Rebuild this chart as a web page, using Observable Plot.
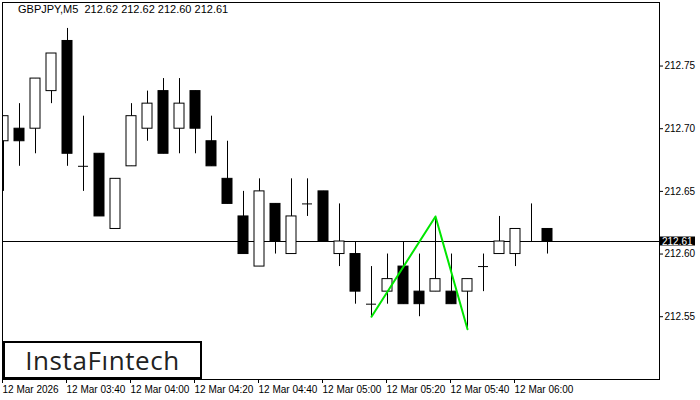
<!DOCTYPE html>
<html>
<head>
<meta charset="utf-8">
<script src="https://cdn.jsdelivr.net/npm/d3@7"></script>
<script src="https://cdn.jsdelivr.net/npm/@observablehq/plot@0.6"></script>
<style>
  html, body { margin: 0; padding: 0; background: #fff; }
  #wrap { position: relative; width: 700px; height: 400px; overflow: hidden; }
  #title { position: absolute; left: 18px; top: 3px; font: 11px "Liberation Sans", Arial, sans-serif; color: #000; white-space: pre; }
  #logo { position: absolute; left: 3px; top: 341px; width: 195px; height: 34px; border: 2px solid #000; background: #fff;
          display: flex; align-items: center; justify-content: center; font: 500 26px "Open Sans", Lato, sans-serif; letter-spacing: 0.6px; color: #222; }
</style>
</head>
<body>
<div id="wrap">
  <div id="chart"></div>
  <div id="title"></div>
  <div id="logo">InstaFıntech</div>
</div>
<script>
const symbolTitle = "GBPJPY,M5  212.62 212.62 212.60 212.61";
const times = ["03:20","03:25","03:30","03:35","03:40","03:45","03:50","03:55","04:00","04:05","04:10","04:15","04:20","04:25","04:30","04:35","04:40","04:45","04:50","04:55","05:00","05:05","05:10","05:15","05:20","05:25","05:30","05:35","05:40","05:45","05:50","05:55","06:00","06:05","06:10"];
const open  = [212.69,212.70,212.70,212.73,212.77,212.67,212.68,212.62,212.67,212.70,212.73,212.70,212.73,212.69,212.66,212.63,212.59,212.64,212.60,212.64,212.65,212.60,212.60,212.56,212.57,212.59,212.57,212.57,212.57,212.57,212.59,212.60,212.60,212.61,212.62];
const high  = [212.71,212.72,212.74,212.76,212.78,212.71,212.68,212.66,212.72,212.73,212.74,212.74,212.73,212.71,212.69,212.65,212.66,212.64,212.66,212.66,212.65,212.64,212.61,212.59,212.60,212.61,212.60,212.63,212.60,212.58,212.60,212.63,212.62,212.64,212.62];
const low   = [212.65,212.67,212.68,212.72,212.67,212.65,212.63,212.62,212.67,212.69,212.68,212.68,212.68,212.67,212.64,212.60,212.59,212.60,212.60,212.63,212.61,212.59,212.56,212.55,212.56,212.56,212.55,212.57,212.56,212.54,212.57,212.60,212.59,212.61,212.60];
const close = [212.71,212.69,212.74,212.76,212.68,212.67,212.63,212.66,212.71,212.72,212.68,212.72,212.70,212.67,212.64,212.60,212.65,212.61,212.63,212.64,212.61,212.61,212.57,212.56,212.58,212.56,212.56,212.58,212.56,212.58,212.59,212.61,212.62,212.61,212.61];
const lastPrice = 212.61;
const yTicks = [212.55, 212.60, 212.65, 212.70, 212.75];
const xTickTimes = ["03:20","03:40","04:00","04:20","04:40","05:00","05:20","05:40","06:00"];
const patternTimes = ["05:15","05:35","05:45"];
const patternValues = [212.55, 212.63, 212.54];

const toDate = s => { const [h, m] = s.split(":").map(Number); return new Date(Date.UTC(2026, 2, 12, h, m)); };
const barMs = 5 * 60 * 1000;
const halfBody = barMs * 5 / 16;

const candles = times.map((s, i) => ({t: toDate(s), open: open[i], high: high[i], low: low[i], close: close[i]}));
const bull = candles.filter(d => d.close > d.open);
const bear = candles.filter(d => d.close < d.open);
const doji = candles.filter(d => d.close === d.open);
const pattern = patternTimes.map((s, i) => ({t: toDate(s), v: patternValues[i]}));
const xTicks = xTickTimes.map(toDate);
const fmtTime = d3.utcFormat("%d %b %H:%M");
const first = +xTicks[0];

const x1 = d => new Date(+d.t - halfBody);
const x2 = d => new Date(+d.t + halfBody);

const chart = Plot.plot({
  width: 700,
  height: 400,
  marginLeft: 2,
  marginRight: 41,
  marginTop: 2,
  marginBottom: 21,
  style: {fontFamily: "'Liberation Sans', Arial, sans-serif", fontSize: "10px", color: "#000", background: "#fff"},
  x: {type: "utc", label: null, domain: [new Date(+toDate("03:20") - barMs / 16), toDate("06:45")]},
  y: {label: null, domain: [212.4999, 212.8007]},
  marks: [
    Plot.ruleY([lastPrice], {stroke: "#000", strokeWidth: 1}),
    Plot.ruleX(candles, {x: "t", y1: "low", y2: "high", stroke: "#000", clip: true}),
    Plot.rect(bull, {x1, x2, y1: "open", y2: "close", fill: "#fff", stroke: "#000", clip: true}),
    Plot.rect(bear, {x1, x2, y1: "open", y2: "close", fill: "#000", stroke: "#000", clip: true}),
    Plot.ruleY(doji, {y: "open", x1, x2, stroke: "#000", clip: true}),
    Plot.line(pattern, {x: "t", y: "v", stroke: "#00e600", strokeWidth: 2}),
    Plot.frame({stroke: "#000"}),
    Plot.axisY(yTicks, {anchor: "right", label: null, tickSize: 3, tickPadding: 2, tickFormat: d => d.toFixed(2), fill: "#000"}),
    Plot.axisX(xTicks, {anchor: "bottom", label: null, tickSize: 4, tickPadding: 2, textAnchor: "start", dx: -1,
      tickFormat: d => +d === first ? "12 Mar 2026" : fmtTime(d), fill: "#000"})
  ]
});

document.getElementById("chart").appendChild(chart);
document.getElementById("title").textContent = symbolTitle;

// current price label in the right margin, positioned through the y scale
const yScale = chart.scale("y");
const py = yScale.apply(lastPrice);
const svg = d3.select(chart);
const g = svg.append("g");
g.append("rect").attr("x", 660).attr("y", Math.round(py) - 4.5).attr("width", 35).attr("height", 9).attr("fill", "#000");
g.append("text").attr("x", 662).attr("y", py + 0.5).attr("dy", "0.35em").attr("fill", "#fff")
  .attr("text-anchor", "start").attr("font-size", 10).text(lastPrice.toFixed(2));
</script>
</body>
</html>
